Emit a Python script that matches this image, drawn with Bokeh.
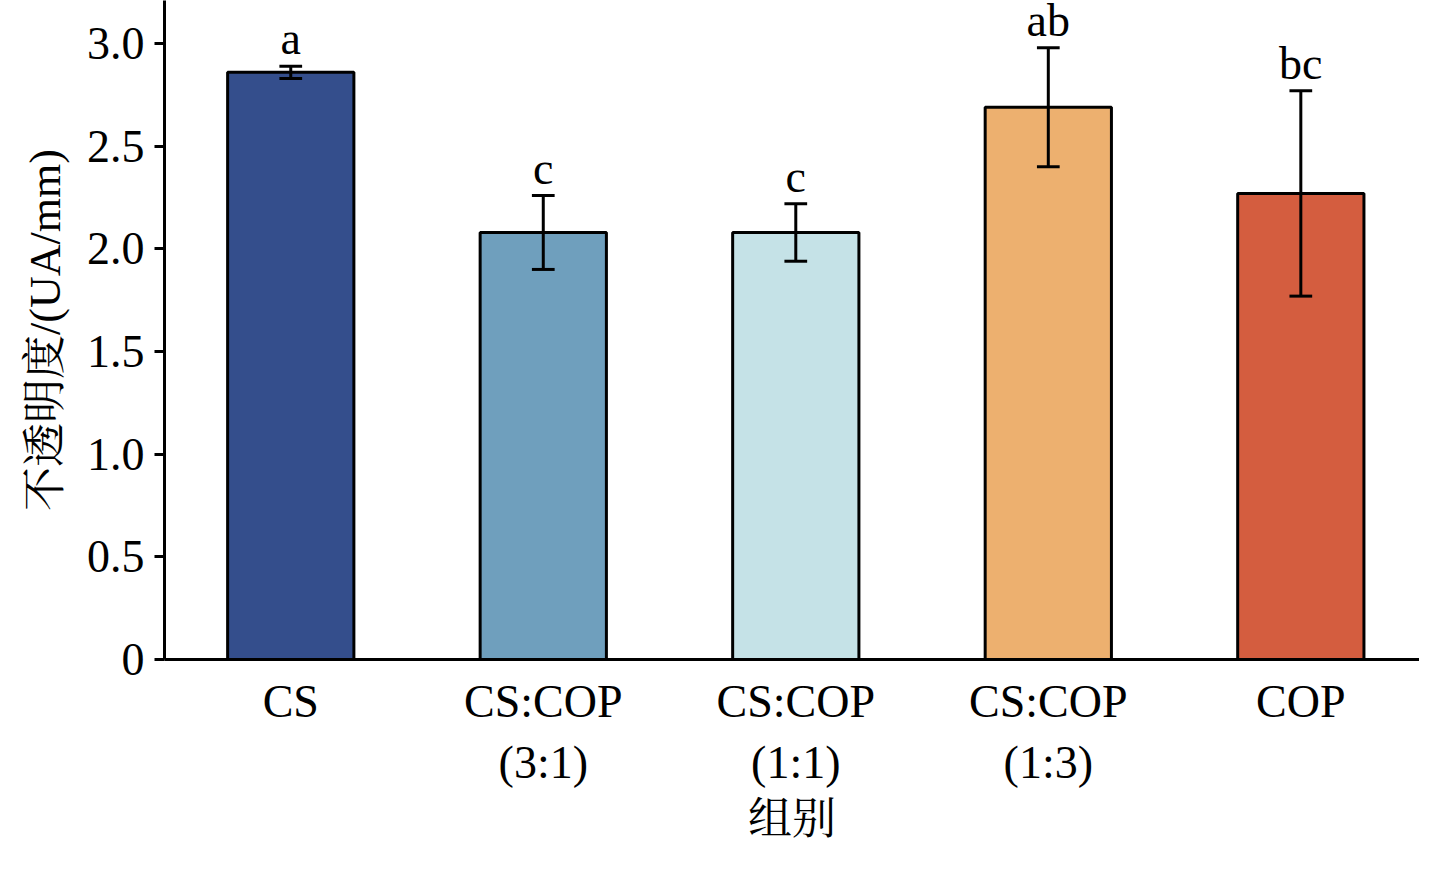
from bokeh.plotting import figure
from bokeh.models import ColumnDataSource, FixedTicker, Range1d
from bokeh.embed import file_html
from bokeh.resources import INLINE
from bokeh.core.properties import value

groups = ["CS", "CS:COP\n(3:1)", "CS:COP\n(1:1)", "CS:COP\n(1:3)", "COP"]
means = [2.86, 2.08, 2.08, 2.69, 2.27]
err_hi = [2.89, 2.26, 2.22, 2.98, 2.77]
err_lo = [2.83, 1.90, 1.94, 2.40, 1.77]
letters = ["a", "c", "c", "ab", "bc"]
colors = ["#344E8C", "#6F9FBD", "#C5E2E7", "#EDB06F", "#D45D3F"]

xs = list(range(len(groups)))
cap = 0.045
src = ColumnDataSource(dict(x=xs, top=means, hi=err_hi, lo=err_lo, c=colors, lab=letters,
                            x0=[x - cap for x in xs], x1=[x + cap for x in xs]))

SERIF = "'Liberation Serif', 'Noto Serif CJK SC', 'Noto Sans CJK SC'"

p = figure(width=1419, height=857, output_backend="svg", toolbar_location=None,
           x_range=Range1d(-0.5, 4.47), y_range=Range1d(0, 3.21),
           min_border_left=164, min_border_bottom=198, min_border_top=0, min_border_right=0,
           frame_width=1255, frame_height=659)
p.outline_line_color = None
p.xgrid.visible = False
p.ygrid.visible = False

p.vbar(x="x", top="top", width=0.5, fill_color="c", line_color="black", line_width=3, source=src)
p.segment(x0="x", y0="lo", x1="x", y1="hi", line_color="black", line_width=3, source=src)
p.segment(x0="x0", y0="hi", x1="x1", y1="hi", line_color="black", line_width=3, source=src)
p.segment(x0="x0", y0="lo", x1="x1", y1="lo", line_color="black", line_width=3, source=src)
p.text(x="x", y="hi", text="lab", source=src, text_align="center", text_baseline="bottom",
       y_offset=-2, text_font=value("Liberation Serif"), text_font_size="46px", text_color="black")

p.yaxis.ticker = FixedTicker(ticks=[0, 0.5, 1.0, 1.5, 2.0, 2.5, 3.0])
p.yaxis.major_label_overrides = {0: "0", 0.5: "0.5", 1: "1.0", 1.5: "1.5", 2: "2.0", 2.5: "2.5", 3: "3.0"}
p.yaxis.minor_tick_line_color = None
p.yaxis.major_tick_out = 10
p.yaxis.major_tick_in = 0
p.xaxis.ticker = FixedTicker(ticks=xs)
p.xaxis.major_label_overrides = {i: g for i, g in enumerate(groups)}
p.xaxis.major_tick_line_color = None
p.xaxis.minor_tick_line_color = None
for ax in (p.xaxis, p.yaxis):
    ax.axis_line_width = 3
    ax.major_tick_line_width = 3
    ax.major_label_text_font = SERIF
    ax.major_label_text_font_size = "46px"
    ax.major_label_text_color = "black"
    ax.axis_label_text_font = SERIF
    ax.axis_label_text_font_size = "44px"
    ax.axis_label_text_font_style = "normal"
    ax.axis_label_text_color = "black"
p.yaxis.axis_label = "不透明度/(UA/mm)"
p.xaxis.axis_label = "组别"
p.xaxis.major_label_standoff = 10
p.xaxis.axis_label_standoff = 4
p.yaxis.major_label_standoff = 10
p.yaxis.axis_label_standoff = 14

open("out.html", "w").write(file_html(p, INLINE))
